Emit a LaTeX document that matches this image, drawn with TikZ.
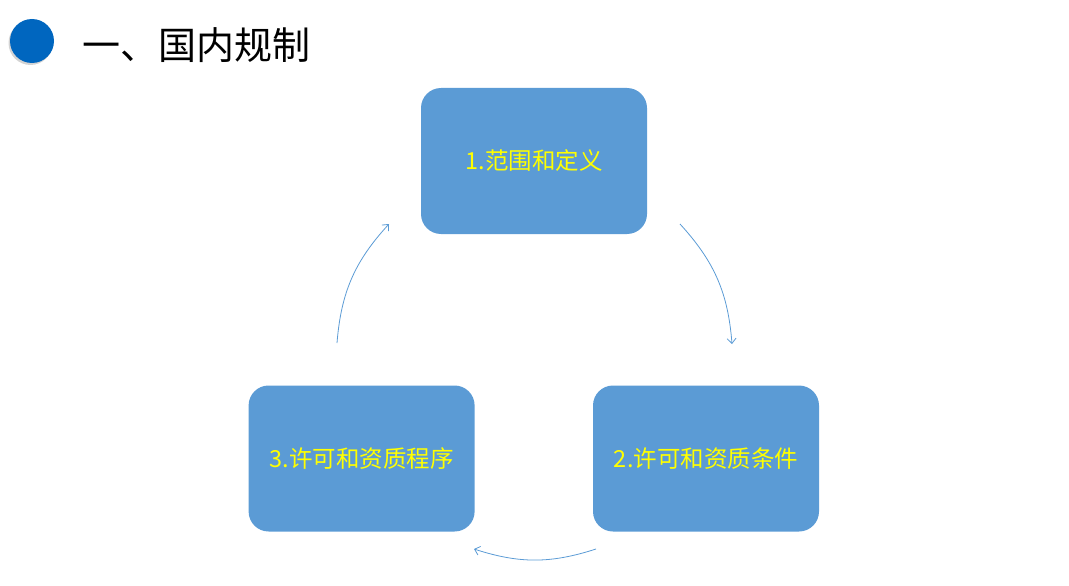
\documentclass[tikz,border=0pt]{standalone}
\usepackage{fontspec}
\newfontfamily\cjk{Noto Sans CJK SC}
\usetikzlibrary{positioning}
\usetikzlibrary{arrows.meta,shadows}

\definecolor{boxblue}{HTML}{5B9BD5}
\definecolor{dotblue}{HTML}{0066BF}
\definecolor{labelyellow}{HTML}{FFFF00}

\begin{document}
\begin{tikzpicture}[x=1pt,y=1pt,>={Straight Barb[length=5pt,width=9pt]},
    stage/.style={rectangle,rounded corners=20pt,fill=boxblue,minimum width=226pt,
      minimum height=146pt,text=labelyellow,font=\cjk\fontsize{23.5}{28}\selectfont},
    cycle/.style={->,draw=boxblue,line width=0.8pt}]
  \useasboundingbox (0,0) rectangle (1069,-586);
  \node[circle,fill=dotblue,minimum size=44pt,inner sep=0pt,
    drop shadow={shadow xshift=-1.5pt,shadow yshift=-2pt,opacity=0.35}] (dot) at (32,-41) {};
  \node[anchor=west,inner sep=0pt,font=\cjk\fontsize{38}{42}\selectfont] (title) at (82,-45) {一、国内规制};

  \node[stage] (scope)                            at (534,-161)   {1.范围和定义};
  \node[stage] (terms)                            at (706,-458.5) {2.许可和资质条件};
  \node[stage] (procedure) [left=118pt of terms]                  {3.许可和资质程序};

  \coordinate (scope-out)     at (680,-224);
  \coordinate (terms-in)      at (732,-344);
  \coordinate (terms-out)     at (596,-549);
  \coordinate (procedure-in)  at (474,-549);
  \coordinate (procedure-out) at (337,-343);
  \coordinate (scope-in)      at (389,-224);

  \path
      (scope-out) edge [cycle,bend left=19] (terms-in)
      (terms-out) edge [cycle,bend left=18] (procedure-in)
  (procedure-out) edge [cycle,bend left=19] (scope-in);
\end{tikzpicture}
\end{document}
